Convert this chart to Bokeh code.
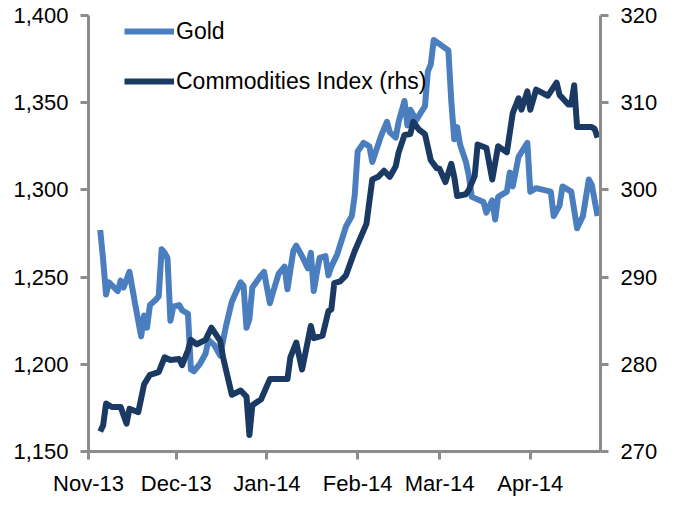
import pandas as pd
from bokeh.plotting import figure
from bokeh.models import (ColumnDataSource, Range1d, LinearAxis, FixedTicker,
                          NumeralTickFormatter, DatetimeTickFormatter, Legend, LegendItem)
from bokeh.embed import file_html
from bokeh.resources import INLINE

gold_dates = ["2013-11-05", "2013-11-06", "2013-11-07", "2013-11-08", "2013-11-11", "2013-11-12",
              "2013-11-13", "2013-11-15", "2013-11-17", "2013-11-19", "2013-11-20", "2013-11-21",
              "2013-11-22", "2013-11-24", "2013-11-25", "2013-11-26", "2013-11-27", "2013-11-28",
              "2013-11-29", "2013-11-30", "2013-12-02", "2013-12-03", "2013-12-05", "2013-12-06",
              "2013-12-07", "2013-12-09", "2013-12-11", "2013-12-12", "2013-12-14", "2013-12-16",
              "2013-12-18", "2013-12-20", "2013-12-23", "2013-12-24", "2013-12-25", "2013-12-26",
              "2013-12-27", "2013-12-30", "2013-12-31", "2014-01-02", "2014-01-03", "2014-01-05",
              "2014-01-07", "2014-01-08", "2014-01-10", "2014-01-11", "2014-01-13", "2014-01-15",
              "2014-01-16", "2014-01-17", "2014-01-18", "2014-01-19", "2014-01-21", "2014-01-22",
              "2014-01-23", "2014-01-25", "2014-01-28", "2014-01-30", "2014-01-31", "2014-02-01",
              "2014-02-03", "2014-02-05", "2014-02-06", "2014-02-09", "2014-02-11", "2014-02-12",
              "2014-02-14", "2014-02-15", "2014-02-17", "2014-02-18", "2014-02-19", "2014-02-21",
              "2014-02-24", "2014-02-25", "2014-02-26", "2014-02-27", "2014-03-04", "2014-03-05",
              "2014-03-06", "2014-03-07", "2014-03-08", "2014-03-10", "2014-03-11", "2014-03-12",
              "2014-03-16", "2014-03-17", "2014-03-19", "2014-03-20", "2014-03-21", "2014-03-24",
              "2014-03-25", "2014-03-26", "2014-03-28", "2014-03-31", "2014-04-01", "2014-04-03",
              "2014-04-08", "2014-04-09", "2014-04-11", "2014-04-12", "2014-04-15", "2014-04-17",
              "2014-04-19", "2014-04-21", "2014-04-22", "2014-04-24"]
gold_values = [1277, 1260, 1240, 1247, 1242, 1248,
               1244, 1253, 1234, 1216, 1228, 1221,
               1234, 1237, 1239, 1266, 1264, 1261,
               1225, 1233, 1234, 1231, 1229, 1197,
               1196, 1200, 1206, 1214, 1211, 1205,
               1222, 1236, 1247, 1245, 1221, 1226,
               1244, 1251, 1253, 1235, 1241, 1252,
               1256, 1243, 1265, 1268, 1262, 1255,
               1264, 1242, 1252, 1261, 1262, 1251,
               1256, 1263, 1279, 1285, 1297, 1322,
               1327, 1325, 1316, 1331, 1339, 1333,
               1330, 1339, 1351, 1337, 1346, 1340,
               1348, 1368, 1372, 1386, 1380, 1351,
               1329, 1336, 1326, 1316, 1308, 1296,
               1293, 1287, 1294, 1283, 1296, 1299,
               1310, 1302, 1319, 1327, 1299, 1301,
               1299, 1285, 1291, 1302, 1299, 1278,
               1285, 1306, 1303, 1285]

cmd_dates = ["2013-11-05", "2013-11-06", "2013-11-07", "2013-11-09", "2013-11-12", "2013-11-14",
             "2013-11-15", "2013-11-18", "2013-11-20", "2013-11-22", "2013-11-25", "2013-11-27",
             "2013-11-29", "2013-12-02", "2013-12-03", "2013-12-05", "2013-12-06", "2013-12-08",
             "2013-12-11", "2013-12-13", "2013-12-15", "2013-12-16", "2013-12-17", "2013-12-20",
             "2013-12-23", "2013-12-25", "2013-12-26", "2013-12-27", "2013-12-30", "2014-01-02",
             "2014-01-08", "2014-01-09", "2014-01-11", "2014-01-13", "2014-01-16", "2014-01-17",
             "2014-01-20", "2014-01-22", "2014-01-23", "2014-01-24", "2014-01-26", "2014-01-28",
             "2014-01-31", "2014-02-04", "2014-02-06", "2014-02-08", "2014-02-10", "2014-02-12",
             "2014-02-14", "2014-02-15", "2014-02-17", "2014-02-19", "2014-02-20", "2014-02-22",
             "2014-02-24", "2014-02-26", "2014-02-28", "2014-03-01", "2014-03-03", "2014-03-05",
             "2014-03-06", "2014-03-07", "2014-03-10", "2014-03-11", "2014-03-13", "2014-03-14",
             "2014-03-17", "2014-03-19", "2014-03-21", "2014-03-24", "2014-03-26", "2014-03-28",
             "2014-03-29", "2014-03-31", "2014-04-01", "2014-04-03", "2014-04-07", "2014-04-08",
             "2014-04-10", "2014-04-11", "2014-04-14", "2014-04-15", "2014-04-16", "2014-04-17",
             "2014-04-22", "2014-04-23", "2014-04-24"]
cmd_values = [272.3, 273.0, 275.5, 275.1, 275.1, 273.2,
              274.9, 274.5, 277.7, 278.8, 279.1, 280.8,
              280.5, 280.6, 279.9, 281.6, 282.8, 282.3,
              282.8, 284.2, 283.2, 282.7, 280.8, 276.5,
              277.0, 276.3, 271.9, 275.3, 276.0, 278.3,
              278.3, 280.8, 282.5, 279.4, 284.4, 283.0,
              283.3, 286.1, 286.3, 289.3, 289.5, 290.2,
              293.0, 296.1, 301.2, 301.5, 302.2, 301.5,
              302.7, 304.3, 306.3, 306.4, 307.8, 306.9,
              306.4, 303.4, 302.5, 302.4, 300.9, 303.0,
              301.5, 299.3, 299.5, 300.0, 301.6, 305.2,
              304.8, 301.2, 305.0, 304.3, 308.8, 310.5,
              309.2, 311.3, 309.2, 311.5, 310.8, 311.3,
              312.3, 310.9, 309.8, 309.8, 312.0, 307.2,
              307.2, 307.0, 306.0]

x_ticks = ["2013-11-01", "2013-12-01", "2014-01-01", "2014-02-01", "2014-03-01", "2014-04-01"]
x_start, x_end = "2013-11-01", "2014-04-25"
left_ticks = [1150, 1200, 1250, 1300, 1350, 1400]
right_ticks = [270, 280, 290, 300, 310, 320]


def ms(s):
    return pd.Timestamp(s).value / 1e6


FONT = "Liberation Sans"
AXIS_GREY = "#8C8C8C"
GOLD_C = "#4A7EBF"
CMD_C = "#1B3A63"

p = figure(width=670, height=498, x_axis_type="datetime", output_backend="svg",
           toolbar_location=None,
           x_range=Range1d(ms(x_start), ms(x_end)), y_range=Range1d(left_ticks[0], left_ticks[-1]),
           min_border_left=88, min_border_right=70, min_border_top=15, min_border_bottom=42)
p.extra_y_ranges = {"rhs": Range1d(right_ticks[0], right_ticks[-1])}
p.outline_line_color = None
p.xgrid.visible = False
p.ygrid.visible = False
p.background_fill_color = "white"
p.border_fill_color = "white"

gsrc = ColumnDataSource(dict(x=pd.to_datetime(gold_dates), y=gold_values))
csrc = ColumnDataSource(dict(x=pd.to_datetime(cmd_dates), y=cmd_values))

g = p.line("x", "y", source=gsrc, line_color=GOLD_C, line_width=6, line_join="round")
c = p.line("x", "y", source=csrc, line_color=CMD_C, line_width=6, line_join="round",
           y_range_name="rhs")

rax = LinearAxis(y_range_name="rhs")
p.add_layout(rax, "right")


def style_axis(ax, standoff):
    ax.axis_line_color = AXIS_GREY
    ax.axis_line_width = 3
    ax.major_tick_line_color = AXIS_GREY
    ax.major_tick_line_width = 3
    ax.major_tick_out = 8
    ax.major_tick_in = 0
    ax.minor_tick_line_color = None
    ax.major_label_text_font = FONT
    ax.major_label_text_font_size = "22px"
    ax.major_label_text_color = "black"
    ax.major_label_standoff = standoff


xax = p.xaxis[0]
style_axis(xax, 11)
xax.ticker = FixedTicker(ticks=[ms(t) for t in x_ticks])
fmt = "%b-%y"
xax.formatter = DatetimeTickFormatter(days=fmt, months=fmt, years=fmt, hours=fmt,
                                      minutes=fmt, seconds=fmt, milliseconds=fmt,
                                      microseconds=fmt, hourmin=fmt, minsec=fmt)

lax = p.yaxis[0]
style_axis(lax, 12)
lax.ticker = FixedTicker(ticks=left_ticks)
lax.formatter = NumeralTickFormatter(format="0,0")

style_axis(rax, 12)
rax.ticker = FixedTicker(ticks=right_ticks)
rax.formatter = NumeralTickFormatter(format="0")

legend = Legend(items=[LegendItem(label="Gold", renderers=[g]),
                       LegendItem(label="Commodities Index (rhs)", renderers=[c])],
                location=(36, 355), orientation="vertical",
                glyph_width=50, glyph_height=30, label_height=30, spacing=20,
                padding=0, margin=0, label_standoff=2,
                border_line_color=None, background_fill_alpha=0,
                label_text_font=FONT, label_text_font_size="23px",
                label_text_color="black")
p.add_layout(legend)

open("out.html", "w").write(file_html(p, INLINE))
